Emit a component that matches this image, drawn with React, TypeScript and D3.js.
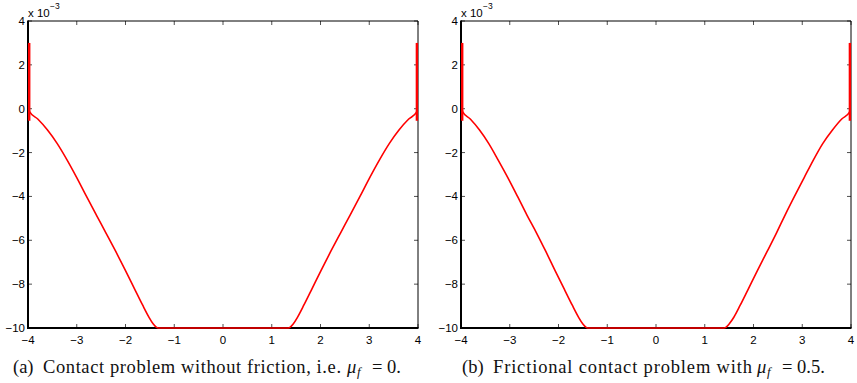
import React from "react";
import * as d3 from "d3";

// values in units of 1e-3
const xTicks = [-4, -3, -2, -1, 0, 1, 2, 3, 4];
const yTicks = [4, 2, 0, -2, -4, -6, -8, -10];

const curveAX = [-3.975, -3.965, -3.8, -3.6, -3.4, -3.2, -3.0, -2.8, -2.6, -2.4, -2.2, -2.0, -1.8, -1.65, -1.52, -1.43, -1.37, -1.33,
  1.34, 1.38, 1.44, 1.53, 1.66, 1.81, 2.01, 2.21, 2.41, 2.61, 2.81, 3.01, 3.21, 3.41, 3.61, 3.81, 3.97, 3.977];
const curveAY = [-0.05, -0.14, -0.47, -0.97, -1.59, -2.33, -3.14, -4.0, -4.84, -5.67, -6.51, -7.38, -8.28, -8.95, -9.5, -9.82, -9.96, -10,
  -10, -9.96, -9.82, -9.5, -8.95, -8.28, -7.38, -6.51, -5.67, -4.84, -4.0, -3.14, -2.33, -1.59, -0.97, -0.47, -0.16, -0.05];

const curveBX = [-3.975, -3.965, -3.81, -3.62, -3.43, -3.24, -3.04, -2.84, -2.65, -2.45, -2.26, -2.07, -1.87, -1.72, -1.59, -1.5, -1.44, -1.4,
  1.39, 1.44, 1.5, 1.6, 1.73, 1.88, 2.08, 2.28, 2.47, 2.65, 2.84, 3.04, 3.23, 3.42, 3.62, 3.81, 3.97, 3.977];
const curveBY = [-0.05, -0.14, -0.47, -0.97, -1.59, -2.33, -3.14, -4.0, -4.84, -5.67, -6.51, -7.38, -8.28, -8.95, -9.5, -9.82, -9.96, -10,
  -10, -9.96, -9.82, -9.5, -8.95, -8.28, -7.38, -6.51, -5.67, -4.84, -4.0, -3.14, -2.33, -1.59, -0.97, -0.47, -0.16, -0.05];

// the two thin spikes at the ends of each profile
const spikeX = [-3.975, 3.977];
const spikeTop = 3;
const spikeBottom = -0.55;

const W = 857;
const H = 383;
const axisFont = "'Liberation Sans', Arial, sans-serif";
const captionFont = "'Liberation Serif', 'Times New Roman', serif";

const fmt = (v: number) => (v < 0 ? "\u2212" + Math.abs(v) : String(v));

type PanelProps = { left: number; right: number; xs: number[]; ys: number[] };

const Panel = ({ left, right, xs, ys }: PanelProps) => {
  const top = 21;
  const bottom = 328;
  const x = d3.scaleLinear().domain([-4, 4]).range([left, right]);
  const y = d3.scaleLinear().domain([-10, 4]).range([bottom, top]);
  const pts = xs.map((v, i) => [v, ys[i]] as [number, number]);
  const line = d3
    .line<[number, number]>()
    .x((d) => x(d[0]))
    .y((d) => y(d[1]))
    .curve(d3.curveMonotoneX);
  const tl = 4;
  return (
    <g>
      {/* ticks, pointing inward on all four sides */}
      {xTicks.map((t) => (
        <g key={"xt" + t} stroke="#222" strokeWidth={0.8}>
          <line x1={x(t)} x2={x(t)} y1={bottom} y2={bottom - tl} />
          <line x1={x(t)} x2={x(t)} y1={top} y2={top + tl} />
        </g>
      ))}
      {yTicks.map((t) => (
        <g key={"yt" + t} stroke="#222" strokeWidth={0.8}>
          <line x1={left} x2={left + tl} y1={y(t)} y2={y(t)} />
          <line x1={right} x2={right - tl} y1={y(t)} y2={y(t)} />
        </g>
      ))}
      <line x1={left} x2={right} y1={top} y2={top} stroke="#000" strokeWidth={1} />
      <line x1={right} x2={right} y1={top} y2={bottom} stroke="#000" strokeWidth={1} />
      <line x1={left} x2={left} y1={top - 0.5} y2={bottom + 1} stroke="#000" strokeWidth={2} />
      <line x1={left - 1} x2={right + 0.5} y1={bottom} y2={bottom} stroke="#000" strokeWidth={2} />

      <path d={line(pts) || ""} fill="none" stroke="#ff0000" strokeWidth={1.6} />
      {spikeX.map((s) => (
        <line key={"sp" + s} x1={x(s)} x2={x(s)} y1={y(spikeTop)} y2={y(spikeBottom)} stroke="#ff0000" strokeWidth={2.4} />
      ))}

      {xTicks.map((t) => (
        <text key={"xl" + t} x={x(t)} y={bottom + 16} textAnchor="middle" fontFamily={axisFont} fontSize={11.5} fill="#000">
          {fmt(t)}
        </text>
      ))}
      {yTicks.map((t) => (
        <text key={"yl" + t} x={left - 3} y={y(t) + 4} textAnchor="end" fontFamily={axisFont} fontSize={11.5} fill="#000">
          {fmt(t)}
        </text>
      ))}
      <text x={left} y={top - 4} fontFamily={axisFont} fontSize={11.5} fill="#000">
        x 10
      </text>
      <text x={left + 22} y={top - 12} fontFamily={axisFont} fontSize={8.5} fill="#000">
        {"\u22123"}
      </text>
    </g>
  );
};

type CaptionProps = {
  tag: string;
  tagX: number;
  body: string;
  bodyX: number;
  bodyEnd: number;
  muX: number;
  rest: string;
  restX: number;
};

const Caption = ({ tag, tagX, body, bodyX, bodyEnd, muX, rest, restX }: CaptionProps) => {
  const base = 373;
  return (
    <g fontFamily={captionFont} fontSize={18.5} fill="#111">
      <text x={tagX} y={base}>{tag}</text>
      <text x={bodyX} y={base} textLength={bodyEnd - bodyX} lengthAdjust="spacing">
        {body}
      </text>
      <text x={muX} y={base} fontStyle="italic">
        {"\u03bc"}
      </text>
      <text x={muX + 10} y={base + 3} fontStyle="italic" fontSize={13}>
        f
      </text>
      <text x={restX} y={base} style={{ whiteSpace: "pre" }}>
        {rest}
      </text>
    </g>
  );
};

export default function App() {
  return (
    <svg
      width={W}
      height={H}
      viewBox={`0 0 ${W} ${H}`}
      style={{ position: "absolute", left: 0, top: 0, display: "block", background: "#fff" }}
    >
      <rect width={W} height={H} fill="#fff" />
      <Panel left={28} right={418} xs={curveAX} ys={curveAY} />
      <Panel left={461} right={851} xs={curveBX} ys={curveBY} />
      <Caption
        tag="(a)"
        tagX={13}
        body="Contact problem without friction, i.e."
        bodyX={43}
        bodyEnd={341}
        muX={347}
        rest="= 0."
        restX={372}
      />
      <Caption
        tag="(b)"
        tagX={462}
        body="Frictional contact problem with"
        bodyX={493}
        bodyEnd={752}
        muX={757}
        rest="= 0.5."
        restX={782}
      />
    </svg>
  );
}
